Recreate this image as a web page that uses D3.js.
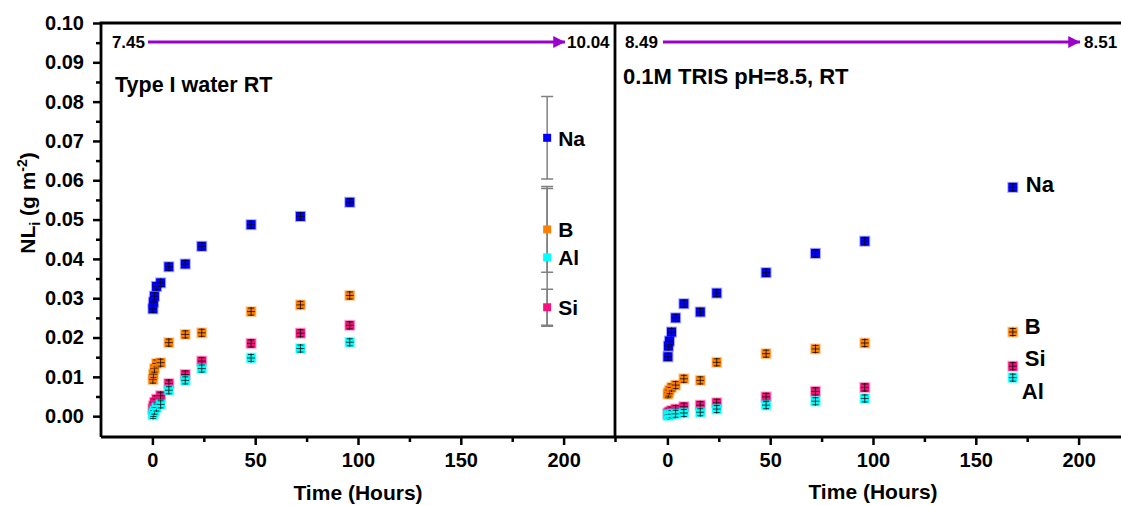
<!DOCTYPE html>
<html>
<head>
<meta charset="utf-8">
<script src="https://cdn.jsdelivr.net/npm/d3@7"></script>
<style>
  body { margin: 0; background: #fff; }
  svg { display: block; font-family: "Liberation Sans", Arial, sans-serif; font-weight: bold; }
</style>
</head>
<body>
<div id="chart"></div>
<script>
// elements, in legend order
const elements = ["Na", "B", "Al", "Si"];
const colors = ["#0000ff", "#ff8000", "#00ffff", "#f5127e"];

// left panel: Type I water
const timesL = [0.25, 0.5, 1, 2, 4, 8, 16, 24, 48, 72, 96];
const naL = [0.0273, 0.0290, 0.0305, 0.0330, 0.0339, 0.0380, 0.0387, 0.0432, 0.0487, 0.0508, 0.0544];
const bL  = [0.0093, 0.0107, 0.0121, 0.0134, 0.0136, 0.0187, 0.0208, 0.0212, 0.0266, 0.0283, 0.0307];
const alL = [0.0003, 0.0008, 0.0014, 0.0022, 0.0030, 0.0066, 0.0091, 0.0121, 0.0148, 0.0172, 0.0188];
const siL = [0.0018, 0.0026, 0.0035, 0.0043, 0.0052, 0.0083, 0.0106, 0.0140, 0.0185, 0.0211, 0.0231];
// final point of the left panel (192 h) with its error bars
const finalTimeL = 192;
const finalL = [0.0708, 0.0475, 0.0404, 0.0277];
const finalErrL = [0.0105, 0.0109, 0.0175, 0.0046];

// right panel: 0.1M TRIS
const timesR = [0.25, 0.5, 1, 2, 4, 8, 16, 24, 48, 72, 96, 168];
const naR = [0.0151, 0.0178, 0.0191, 0.0214, 0.0250, 0.0286, 0.0265, 0.0313, 0.0365, 0.0414, 0.0445, 0.0582];
const bR  = [0.0056, 0.0060, 0.0066, 0.0073, 0.0079, 0.0095, 0.0091, 0.0137, 0.0159, 0.0171, 0.0186, 0.0214];
const alR = [0.0002, 0.0003, 0.0004, 0.0005, 0.0006, 0.0008, 0.0010, 0.0018, 0.0028, 0.0038, 0.0045, 0.0098];
const siR = [0.0006, 0.0008, 0.0011, 0.0014, 0.0018, 0.0024, 0.0028, 0.0034, 0.0049, 0.0063, 0.0073, 0.0127];

// texts
const titles = ["Type I water RT", "0.1M TRIS pH=8.5, RT"];
const phStart = ["7.45", "8.49"];
const phEnd = ["10.04", "8.51"];
const xTicks = [0, 50, 100, 150, 200];
const xMinor = [-25, 25, 75, 125, 175, 225];
const yTicks = d3.range(0, 0.1001, 0.01);
const yMinor = d3.range(0.005, 0.1, 0.01);

const W = 1121, H = 505;
const svg = d3.select("#chart").append("svg").attr("width", W).attr("height", H);

const y = d3.scaleLinear().domain([-0.0053, 0.10]).range([437, 23]);
const xL = d3.scaleLinear().domain([-25, 225]).range([101, 615]);
const xR = d3.scaleLinear().domain([-25, 225]).range([616, 1130]);

//axes (ticks outward, no domain path; frame drawn below)
svg.append("g").attr("transform", "translate(101,0)")
  .call(d3.axisLeft(y).tickValues(yTicks).tickSize(8).tickPadding(9).tickFormat(d3.format(".2f")))
  .call(g => g.select(".domain").remove());
svg.append("g").attr("transform", "translate(101,0)")
  .call(d3.axisLeft(y).tickValues(yMinor).tickSize(5).tickFormat(""))
  .call(g => g.select(".domain").remove());

[xL, xR].forEach(x => {
  svg.append("g").attr("transform", "translate(0,437)")
    .call(d3.axisBottom(x).tickValues(xTicks).tickSize(8).tickPadding(8))
    .call(g => g.select(".domain").remove());
  svg.append("g").attr("transform", "translate(0,437)")
    .call(d3.axisBottom(x).tickValues(xMinor.filter(d => d > -25)).tickSize(5).tickFormat(""))
    .call(g => g.select(".domain").remove());
});

svg.selectAll(".tick line").attr("stroke", "#000").attr("stroke-width", 2.5);
svg.selectAll(".tick text").attr("fill", "#000").style("font-size", "20px").style("font-weight", "bold")
  .style("font-family", "'Liberation Sans', Arial, sans-serif");

// frame
const frame = svg.append("g").attr("stroke", "#000").attr("stroke-width", 2.8).attr("fill", "none");
frame.append("path").attr("d", `M101,437 V23 H${W}`);
frame.append("path").attr("d", `M615,23 V437`);
frame.append("path").attr("d", `M101,437 H${W}`);

// purple arrow marker
svg.append("defs").append("marker")
  .attr("id", "arrow").attr("viewBox", "0 0 10 10").attr("refX", 10).attr("refY", 5)
  .attr("markerWidth", 7.5).attr("markerHeight", 4.2).attr("markerUnits", "strokeWidth")
  .attr("orient", "auto")
  .append("path").attr("d", "M0,0 L10,5 L0,10 z").attr("fill", "#9900cc");

const panels = [
  { x: xL, times: timesL, series: [naL, bL, alL, siL] },
  { x: xR, times: timesR, series: [naR, bR, alR, siR] }
];

panels.forEach((p, pi) => {
  const x = p.x;
  const x0 = x.range()[0];
  const x1 = pi === 0 ? 615 : W;

  // pH arrow
  svg.append("text").attr("x", x0 + (pi === 0 ? 44 : 42)).attr("y", 48)
    .attr("text-anchor", "end").style("font-size", "17px").text(phStart[pi]);
  svg.append("line")
    .attr("x1", x0 + 47).attr("x2", x1 - (pi === 0 ? 50 : 41))
    .attr("y1", 42).attr("y2", 42)
    .attr("stroke", "#9900cc").attr("stroke-width", 2.8)
    .attr("marker-end", "url(#arrow)");
  svg.append("text").attr("x", pi === 0 ? 567 : 1084).attr("y", 48)
    .style("font-size", "17px").text(phEnd[pi]);

  // panel title
  svg.append("text").attr("x", x0 + (pi === 0 ? 14 : 7)).attr("y", pi === 0 ? 92 : 84)
    .style("font-size", pi === 0 ? "21.5px" : "22px").text(titles[pi]);

  // x title
  svg.append("text").attr("x", x(100)).attr("y", pi === 0 ? 500 : 499)
    .attr("text-anchor", "middle").style("font-size", "21px").text("Time (Hours)");

  // series: draw Na, B, Si, then Al
  [0, 1, 3, 2].forEach(k => {
    const pts = p.times.map((t, i) => ({ t: t, v: p.series[k][i] }));
    const g = svg.append("g");
    const m = g.selectAll("g").data(pts).join("g")
      .attr("transform", d => `translate(${x(d.t)},${y(d.v)})`);
    m.append("rect").attr("x", -4.5).attr("y", -4.5).attr("width", 9).attr("height", 9)
      .attr("fill", colors[k]).attr("stroke", colors[k]).attr("stroke-opacity", 0.35).attr("stroke-width", 2);
    m.append("path").attr("d", "M0,-4.5V4.5M-4,0H4M-3,-3.5H3M-3,3.5H3")
      .attr("stroke", "#000").attr("stroke-opacity", 0.75).attr("stroke-width", 1);
  });
});

// left panel final point with grey error bars and labels
const fx = xL(finalTimeL);
const fin = svg.append("g");
elements.forEach((el, k) => {
  const v = finalL[k], e = finalErrL[k];
  fin.append("path")
    .attr("d", `M${fx},${y(v + e)}V${y(v - e)}M${fx - 6},${y(v + e)}H${fx + 6}M${fx - 6},${y(v - e)}H${fx + 6}`)
    .attr("stroke", "#808080").attr("stroke-width", 1.5).attr("fill", "none");
});
elements.forEach((el, k) => {
  const v = finalL[k];
  fin.append("rect").attr("x", fx - 4).attr("y", y(v) - 4).attr("width", 8).attr("height", 8)
    .attr("fill", colors[k]);
  fin.append("text").attr("x", fx + 11).attr("y", y(v) + 8)
    .style("font-size", "21px").text(el);
});

// right panel labels next to the 168 h points
const labelDy = [5, 2, 21, 0];
const labelDx = [13, 12, 9, 12];
const lastR = [naR, bR, alR, siR].map(s => s[s.length - 1]);
elements.forEach((el, k) => {
  svg.append("text")
    .attr("x", xR(timesR[timesR.length - 1]) + labelDx[k])
    .attr("y", y(lastR[k]) + labelDy[k])
    .style("font-size", "22px").text(el);
});

// y title
const yt = svg.append("text").attr("transform", "translate(35,203) rotate(-90)")
  .attr("text-anchor", "middle").style("font-size", "21px");
yt.append("tspan").text("NL");
yt.append("tspan").attr("dy", 5).style("font-size", "14px").text("i");
yt.append("tspan").attr("dy", -5).text(" (g m");
yt.append("tspan").attr("dy", -8).style("font-size", "14px").text("-2");
yt.append("tspan").attr("dy", 8).text(")");
</script>
</body>
</html>
